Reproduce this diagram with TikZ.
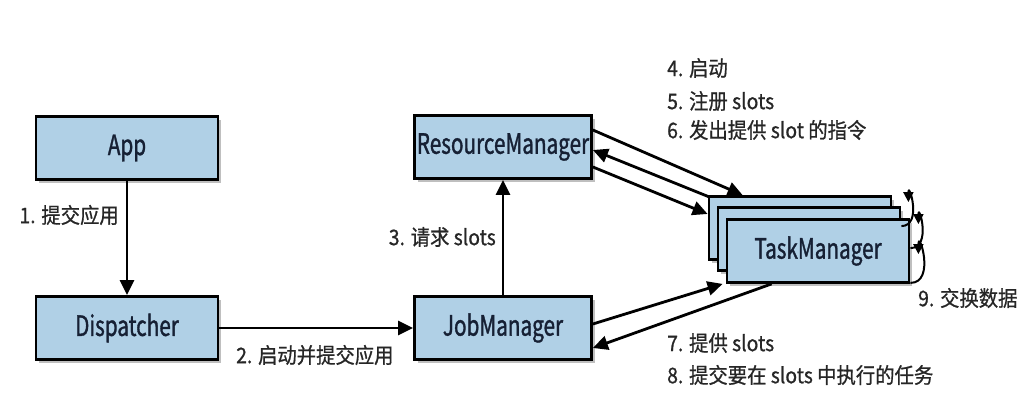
\documentclass[tikz,border=0pt]{standalone}
\usepackage{fontspec}
\setmainfont[FakeStretch=0.9,FakeBold=0.8]{Noto Sans CJK SC}
\newfontfamily\boxfont[FakeStretch=0.74,FakeBold=1.2]{Noto Sans CJK SC}
\usetikzlibrary{arrows.meta,shadows,positioning}
\definecolor{boxblue}{RGB}{176,208,230}
\definecolor{boxtext}{RGB}{22,32,52}
\begin{document}
\begin{tikzpicture}[x=1pt,y=1pt,
  box/.style={draw=black,line width=2.8pt,fill=boxblue,text=boxtext,minimum width=182pt,minimum height=63pt,inner sep=0pt,
    font=\boxfont\fontsize{28}{30}\selectfont,
    drop shadow={shadow xshift=3pt,shadow yshift=-4pt,fill=black!50,opacity=0.5}},
  lbl/.style={font=\fontsize{21.5}{23}\selectfont,inner sep=0pt,text=black!85},
  flow/.style={line width=2.8pt,-{Triangle[length=15pt,width=14pt]}},
  swap/.style={line width=2pt,-{Triangle[length=10pt,width=10pt]}}]
\useasboundingbox (0,0) rectangle (1028,406);
% left column
\node[box] (app) at (127,258) {App};
\node[box] (disp) at (127,78) {Dispatcher};
% middle column
\node[box,minimum width=177pt] (rm) at (503,259) {ResourceManager};
\node[box,minimum width=177pt] (jm) at (503,78) {JobManager};
% task managers, back to front
\node[box] (tmc) at (800,178) {};
\node[box] (tmb) at (809,167) {};
\node[box] (tm) at (818,155) {TaskManager};
% connectors
\draw[flow] (app)--(disp);
\draw[flow] (disp)--(jm);
\draw[flow] (jm)--(rm);
\draw[flow] ([yshift=17pt]rm.east)--([xshift=35pt]tmc.north west);
\draw[flow] ([xshift=2pt,yshift=-2pt]tmc.north west)--([yshift=-3pt]rm.east);
\draw[flow] ([yshift=-20pt]rm.east)--([yshift=14pt]tmc.west);
\draw[flow] ([yshift=4pt]jm.east)--([xshift=-3pt]tm.south west);
\draw[flow] ([xshift=46pt]tm.south west)--([yshift=-20pt]jm.east);
% data exchange between task managers
\draw[swap] ([yshift=-20pt]tmb.north east) to[out=0,in=90,looseness=2.2] ([xshift=7pt,yshift=4pt]tmb.north east);
\draw[swap] ([yshift=-30pt]tm.north east) to[out=0,in=90,looseness=2.2] ([xshift=8pt,yshift=-6pt]tm.north east);
\draw[swap] ([yshift=1pt]tm.south east) to[out=0,in=90,looseness=2.2] ([xshift=8pt,yshift=-36pt]tm.north east);
% labels
\node[lbl,anchor=east] (l1) at (119,191) {1. 提交应用};
\node[lbl,anchor=west] (l2) at (236,51) {2. 启动并提交应用};
\node[lbl,anchor=east] (l3) at (496,169) {3. 请求 slots};
\node[lbl,anchor=west] (l4) at (667,338) {4. 启动};
\node[lbl,anchor=west] (l5) at (667,305) {5. 注册 slots};
\node[lbl,anchor=west] (l6) at (667,276) {6. 发出提供 slot 的指令};
\node[lbl,anchor=west] (l7) at (667,63) {7. 提供 slots};
\node[lbl,anchor=west] (l8) at (667,31) {8. 提交要在 slots 中执行的任务};
\node[lbl,anchor=west] (l9) at (918,108) {9. 交换数据};
\end{tikzpicture}
\end{document}
